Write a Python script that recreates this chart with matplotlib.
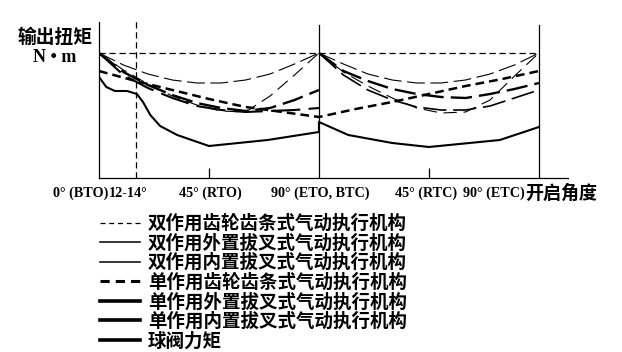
import matplotlib
matplotlib.use("Agg")
import matplotlib.pyplot as plt
from matplotlib.lines import Line2D
from matplotlib.transforms import blended_transform_factory

# torque schematic, values (arbitrary units)
ang_open = [0, 10, 20, 30, 40, 50, 60, 70, 80, 90]
ang_close = [90, 100, 110, 120, 130, 140, 150, 160, 170, 180]

da_rack_ang = [0, 180]
da_rack = [125, 125]

da_ext_open = [125, 113, 104, 98, 95, 95, 98, 104, 114, 125]
da_ext_close = [125, 114, 104, 98, 95, 95, 98, 104, 113, 125]
da_int_open = [125, 108, 94, 82, 73, 67, 66, 82, 103, 125]
da_int_close = [125, 106, 92, 80, 70, 65, 66, 78, 102, 125]

sa_rack_ang = [0, 15, 30, 45, 60, 75, 90, 105, 120, 135, 150, 165, 180]
sa_rack = [107, 97, 88, 79, 71, 66, 61, 69, 76, 84, 92, 99, 107]

sa_ext_open = [125, 106, 93, 83, 75, 70, 67, 70, 78, 88]
sa_ext_close = [125, 107, 97, 89, 84, 81, 80, 84, 89, 95]
sa_int_open = [125, 103, 90, 80, 72, 68, 66, 67, 68, 70]
sa_int_close = [125, 103, 88, 78, 71, 68, 68, 72, 80, 88]

ball_ang = [0, 3, 6.5, 11.5, 15.5, 18, 21, 25, 32, 45, 69, 90,
            90, 102, 120, 135, 164, 180]
ball = [101, 91, 87, 87, 84, 76, 63, 52, 43, 32, 38, 46,
        56, 43, 35, 31, 38, 51]

tick_labels = ["45° (RTO)", "90° (ETO, BTC)", "45° (RTC)"]
tick_pos = [45.4, 90.4, 134.0]

legend_labels = ["双作用齿轮齿条式气动执行机构", "双作用外置拔叉式气动执行机构",
                 "双作用内置拔叉式气动执行机构", "单作用齿轮齿条式气动执行机构",
                 "单作用外置拔叉式气动执行机构", "单作用内置拔叉式气动执行机构",
                 "球阀力矩"]

fam = ["Liberation Serif", "Noto Sans CJK SC"]
cjk = ["Noto Sans CJK SC", "DejaVu Sans"]

W, H = 622, 352
fig = plt.figure(figsize=(W / 100, H / 100), dpi=100)
ax = fig.add_axes([99 / W, 1 - 178 / H, (568 - 99) / W, (178 - 22) / H])
ax.set_xlim(0, 191.9)
ax.set_ylim(0, 156)

k = "black"
ax.plot(da_rack_ang, da_rack, color=k, lw=0.9, dashes=(5, 3))
ax.plot(ang_open, da_ext_open, color=k, lw=0.8, dashes=(16, 5))
ax.plot(ang_close, da_ext_close, color=k, lw=0.8, dashes=(16, 5))
ax.plot(ang_open, da_int_open, color=k, lw=0.8, dashes=(12, 6))
ax.plot(ang_close, da_int_close, color=k, lw=0.8, dashes=(12, 6))
ax.plot(sa_rack_ang, sa_rack, color=k, lw=1.8, dashes=(3.5, 2))
ax.plot(ang_open, sa_ext_open, color=k, lw=1.7, dashes=(9, 3))
ax.plot(ang_close, sa_ext_close, color=k, lw=1.7, dashes=(9, 3))
ax.plot(ang_open, sa_int_open, color=k, lw=1.5, dashes=(14, 4))
ax.plot(ang_close, sa_int_close, color=k, lw=1.2, dashes=(14, 4))
ax.plot(ball_ang, ball, color=k, lw=1.5)

ax.plot([90, 90], [0, 153], color=k, lw=0.9)
ax.plot([180, 180], [0, 153], color=k, lw=0.9)
ax.plot([15, 15], [0, 158], color=k, lw=0.9, dashes=(5, 3), clip_on=False)

for s in ["top", "right"]:
    ax.spines[s].set_visible(False)
ax.spines["left"].set_linewidth(0.9)
ax.spines["bottom"].set_linewidth(0.9)
ax.set_yticks([])
ax.set_xticks([45, 135])
ax.set_xticklabels([])
ax.tick_params(axis="x", direction="in", length=7, width=0.9)

tr = blended_transform_factory(ax.transData, ax.transAxes)
ty = -0.1
lab_kw = dict(transform=tr, va="center", family=fam, fontweight="bold", fontsize=10.2)
ax.text(3.7, ty, "0° (BTO)", ha="right", **lab_kw)
ax.text(3.9, ty, "12-14°", ha="left", **lab_kw)
for p, lab in zip(tick_pos, tick_labels):
    ax.text(p, ty, lab, ha="center", **lab_kw)
ax.text(174.3, ty, "90° (ETC)", ha="right", **lab_kw)
ax.text(174.3, ty, "开启角度", transform=tr, ha="left", va="center",
        family=cjk, fontweight="bold", fontsize=13)

fig.text(55 / W, 1 - 37 / H, "输出扭矩", ha="center", va="center",
         family=cjk, fontweight="bold", fontsize=13.5)
fig.text(55 / W, 1 - 58 / H, "N • m", ha="center", va="center",
         family=fam, fontweight="bold", fontsize=13)

handles = [
    Line2D([], [], color=k, lw=0.9, dashes=(4, 3)),
    Line2D([], [], color=k, lw=1.1),
    Line2D([], [], color=k, lw=1.1),
    Line2D([], [], color=k, lw=2.2, dashes=(3, 2)),
    Line2D([], [], color=k, lw=2.6),
    Line2D([], [], color=k, lw=2.6),
    Line2D([], [], color=k, lw=2.6),
]
fig.legend(handles, legend_labels, loc="upper left",
           bbox_to_anchor=(100 / W, 1 - 214 / H), frameon=False,
           prop={"family": cjk, "weight": "bold", "size": 13.3},
           handlelength=2.16, handletextpad=0.43, labelspacing=0.03,
           borderpad=0, borderaxespad=0)

fig.savefig("out.png", dpi=100)
